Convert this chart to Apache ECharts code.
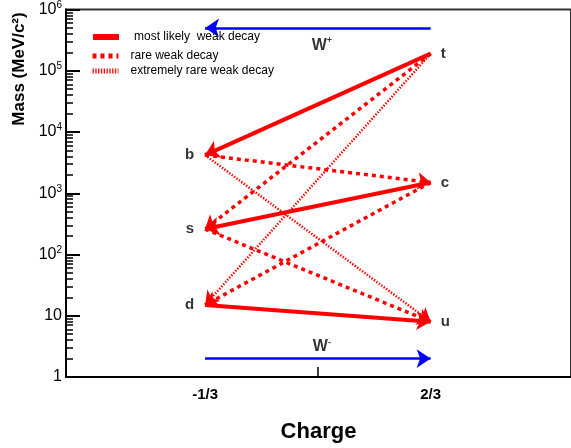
<!DOCTYPE html>
<html>
<head>
<meta charset="utf-8">
<script src="https://cdn.jsdelivr.net/npm/echarts@6/dist/echarts.min.js"></script>
<style>
  html, body { margin: 0; padding: 0; background: #fff; }
  #chart { width: 571px; height: 448px; }
</style>
</head>
<body>
<div id="chart"></div>
<script>
// Quark flavours: electric charge (units of e) and mass (MeV/c^2)
const flavours = ['d', 'u', 's', 'c', 'b', 't'];
const charges = [-1/3, 2/3, -1/3, 2/3, -1/3, 2/3];
const masses = [15, 8, 260, 1500, 4200, 190000];

// Weak decay transitions [from, to], grouped by how likely they are
const mostLikely = [['t', 'b'], ['c', 's'], ['d', 'u']];
const rare = [['t', 's'], ['c', 'd'], ['b', 'c'], ['s', 'u']];
const extremelyRare = [['t', 'd'], ['b', 'u']];

// W boson arrows: [charge from, charge to, mass level]
const wArrows = [[2/3, -1/3, 5e5], [-1/3, 2/3, 2]];
// W boson labels: [sign, charge, mass level]
const wLabels = [['+', 1/6, 2.6e5], ['-', 1/6, 3.1]];

const legendNames = ['most likely  weak decay', 'rare weak decay', 'extremely rare weak decay'];
const chargeTicks = [-1/3, 2/3];
const chargeTickText = ['-1/3', '2/3'];
const midChargeTick = [1/6];

// minor ticks of the log mass axis: 2..9 in every decade
const minorMassTicks = [];
for (let e = 0; e < 6; e++) {
  for (let m = 2; m <= 9; m++) minorMassTicks.push(m * Math.pow(10, e));
}

const FONT = '"Liberation Sans", Arial, sans-serif';
const RED = '#ff0000';
const BLUE = '#0000ff';

const styles = [
  { width: 4, type: 'solid' },
  { width: 3.5, type: [4, 4] },
  { width: 2.5, type: [1.4, 1.6] }
];
const legendStyles = [
  { width: 6, type: 'solid' },
  { width: 5, type: [4, 4] },
  { width: 5, type: [1.3, 1.5] }
];
const groups = [mostLikely, rare, extremelyRare];

function point(name) {
  const i = flavours.indexOf(name);
  return [charges[i], masses[i]];
}

const series = [];

// line series carry the legend icons
legendNames.forEach((name, k) => {
  series.push({
    type: 'line', name: name, data: [], symbol: 'none',
    itemStyle: { color: RED },
    lineStyle: { color: RED, width: styles[k].width, type: styles[k].type }
  });
});

// decay arrows
groups.forEach((g, k) => {
  series.push({
    type: 'lines',
    coordinateSystem: 'cartesian2d',
    name: legendNames[k],
    symbol: ['none', 'arrow'],
    symbolSize: k === 0 ? 14 : 13,
    lineStyle: { color: RED, width: styles[k].width, type: styles[k].type, opacity: 1 },
    data: g.map(([a, b]) => ({ coords: [point(a), point(b)] })),
    silent: true,
    z: 3
  });
});

// W boson arrows
series.push({
  type: 'lines',
  coordinateSystem: 'cartesian2d',
  symbol: ['none', 'arrow'],
  symbolSize: 14,
  lineStyle: { color: BLUE, width: 2.5, opacity: 1 },
  data: wArrows.map(([x0, x1, m]) => ({ coords: [[x0, m], [x1, m]] })),
  silent: true,
  z: 3
});

// W boson labels
series.push({
  type: 'scatter',
  symbolSize: 0,
  data: wLabels.map(([s, x, m]) => ({ value: [x, m], sign: s })),
  label: {
    show: true, position: 'inside', offset: [4, 0],
    formatter: p => 'W{sup|' + p.data.sign + '}',
    color: '#000', fontFamily: FONT, fontWeight: 'bold', fontSize: 16,
    rich: { sup: { fontFamily: FONT, fontWeight: 'bold', fontSize: 9, padding: [0, 0, 9, 0], color: '#000' } }
  },
  silent: true
});

// quark names
series.push({
  type: 'scatter',
  symbolSize: 0,
  data: flavours.map((f, i) => ({
    value: [charges[i], masses[i]],
    name: f,
    label: { position: charges[i] < 0 ? 'left' : 'right', distance: charges[i] < 0 ? 11 : 10 }
  })),
  label: {
    show: true, formatter: '{b}',
    color: '#000', fontFamily: FONT, fontWeight: 'bold', fontSize: 15
  },
  silent: true
});

const legendTops = [31, 50, 65];
const legends = legendNames.map((name, k) => ({
  data: [name],
  left: 90, top: legendTops[k],
  padding: 0,
  itemWidth: 26, itemHeight: 12, itemGap: 14,
  selectedMode: false,
  itemStyle: { opacity: 0 },
  lineStyle: { color: RED, width: legendStyles[k].width, type: legendStyles[k].type, cap: 'butt' },
  textStyle: { fontFamily: FONT, fontSize: 12, color: '#000', padding: [0, 0, 0, k === 0 ? 10 : 7] }
}));

const chart = echarts.init(document.getElementById('chart'), null, { renderer: 'canvas' });
chart.setOption({
  animation: false,
  backgroundColor: '#fff',
  grid: {
    left: 66, top: 7, right: -10, bottom: 69,
    show: true, borderColor: '#333', borderWidth: 2, backgroundColor: 'transparent'
  },
  legend: legends,
  xAxis: {
    type: 'value', min: -0.95, max: 1.289,
    name: 'Charge', nameLocation: 'middle', nameGap: 44,
    nameTextStyle: { fontFamily: FONT, fontWeight: 'bold', fontSize: 22, color: '#000' },
    axisLine: { show: true, onZero: false, lineStyle: { color: '#000', width: 2 } },
    axisTick: { show: true, inside: true, length: 10, customValues: midChargeTick, lineStyle: { color: '#000', width: 1.5 } },
    axisLabel: {
      customValues: chargeTicks, margin: 10,
      formatter: v => chargeTickText[chargeTicks.findIndex(c => Math.abs(c - v) < 1e-9)] || '',
      fontFamily: FONT, fontWeight: 'bold', fontSize: 15, color: '#000'
    },
    splitLine: { show: false }
  },
  yAxis: [{
    type: 'log', logBase: 10, min: 1, max: 1e6,
    axisLine: { show: true, onZero: false, lineStyle: { color: '#000', width: 2 } },
    axisTick: { show: true, inside: true, length: 14, lineStyle: { color: '#000', width: 2 } },
    axisLabel: {
      margin: 4,
      formatter: v => {
        const e = Math.round(Math.log10(v));
        if (e === 0) return '1';
        if (e === 1) return '10';
        return '10{sup|' + e + '}';
      },
      fontFamily: FONT, fontSize: 16, color: '#000',
      rich: { sup: { fontFamily: FONT, fontSize: 10, padding: [0, 0, 9, 0], color: '#000' } }
    },
    splitLine: { show: false }
  }, {
    type: 'log', logBase: 10, min: 1, max: 1e6, position: 'left', offset: 0,
    axisLine: { show: false, onZero: false },
    axisTick: { show: true, inside: true, length: 7, customValues: minorMassTicks, lineStyle: { color: '#000', width: 1.5 } },
    axisLabel: { show: false },
    splitLine: { show: false }
  }],
  graphic: [{
    type: 'text', x: 19, y: 69, rotation: Math.PI / 2,
    style: {
      text: 'Mass (MeV/c²)', fill: '#000',
      font: 'bold 17px "Liberation Sans", Arial, sans-serif',
      textAlign: 'center', textVerticalAlign: 'middle'
    }
  }],
  series: series
});
</script>
</body>
</html>
